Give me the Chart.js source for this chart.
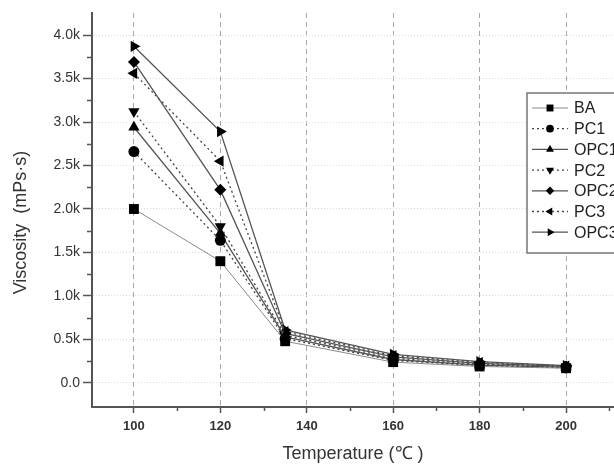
<!DOCTYPE html>
<html>
<head>
	<script src="https://cdn.jsdelivr.net/npm/chart.js@4/dist/chart.umd.min.js"></script>
	<title>Viscosity vs temperature</title>
	<style>
		html, body { margin: 0; padding: 0; background: #fff; overflow: hidden; }
	</style>
</head>
<body>
	<canvas id="myChart" width="614" height="465"></canvas>
	<script type="text/javascript">
		// temperatures (deg C) and viscosity (mPa.s)
		const temps = [100, 120, 135, 160, 180, 200];
		const BA   = [2000, 1400, 480, 240, 190, 170];
		const PC1  = [2660, 1640, 510, 260, 200, 175];
		const OPC1 = [2940, 1720, 530, 270, 205, 180];
		const PC2  = [3120, 1800, 550, 285, 215, 185];
		const OPC2 = [3690, 2220, 570, 300, 225, 190];
		const PC3  = [3560, 2550, 590, 315, 235, 195];
		const OPC3 = [3870, 2890, 610, 330, 245, 200];

		const seriesNames = ['BA', 'PC1', 'OPC1', 'PC2', 'OPC2', 'PC3', 'OPC3'];
		const xTicks = [100, 120, 140, 160, 180, 200];
		const yTicks = [0, 500, 1000, 1500, 2000, 2500, 3000, 3500, 4000];

		const FONT = "'Liberation Sans', Arial, sans-serif";

		// marker / line style per series
		const styles = [
			{ pt : 'rect',     rot : 0,   r : 7,   dash : [],     col : '#8a8a8a', w : 1 },
			{ pt : 'circle',   rot : 0,   r : 5.5, dash : [2, 3], col : '#444',    w : 1.3 },
			{ pt : 'triangle', rot : 0,   r : 6.5, dash : [],     col : '#555',    w : 1.3 },
			{ pt : 'triangle', rot : 180, r : 6.5, dash : [2, 3], col : '#444',    w : 1.3 },
			{ pt : 'rectRot',  rot : 0,   r : 6,   dash : [],     col : '#555',    w : 1.3 },
			{ pt : 'triangle', rot : -90, r : 6.5, dash : [2, 3], col : '#444',    w : 1.3 },
			{ pt : 'triangle', rot : 90,  r : 6.5, dash : [],     col : '#555',    w : 1.3 }
		];
		const values = [BA, PC1, OPC1, PC2, OPC2, PC3, OPC3];

		let datasets = [];
		for(let i=0; i<values.length; i++) {
			let s = styles[i];
			datasets.push({
				label : seriesNames[i],
				data : temps.map((t, j) => ({ x : t, y : values[i][j] })),
				borderColor : s.col,
				borderWidth : s.w,
				borderDash : s.dash,
				pointStyle : s.pt,
				rotation : s.rot,
				pointRadius : s.r,
				pointBackgroundColor : '#000',
				pointBorderColor : '#000',
				pointBorderWidth : 0,
				fill : false,
				tension : 0
			});
		}

		// minor ticks (half steps) on both axes
		const minorTicks = {
			id : 'minorTicks',
			afterDraw(chart) {
				const ctx = chart.ctx;
				const xs = chart.scales.x, ys = chart.scales.y;
				const area = chart.chartArea;
				ctx.save();
				ctx.strokeStyle = '#555';
				ctx.lineWidth = 1.5;
				ctx.beginPath();
				for(let v=250; v<4250; v+=500) {
					let py = Math.round(ys.getPixelForValue(v)) + 0.5;
					ctx.moveTo(area.left - 5, py);
					ctx.lineTo(area.left, py);
				}
				for(let v=110; v<=210; v+=20) {
					let px = Math.round(xs.getPixelForValue(v)) + 0.5;
					ctx.moveTo(px, area.bottom);
					ctx.lineTo(px, area.bottom + 4);
				}
				ctx.stroke();
				ctx.restore();
			}
		};

		// boxed legend inside the plot, on the right
		const boxLegend = {
			id : 'boxLegend',
			afterDraw(chart) {
				const ctx = chart.ctx;
				const left = 527, top = 93, rowH = 20.7;
				ctx.save();
				ctx.fillStyle = '#fff';
				ctx.fillRect(left, top, 200, 160);
				ctx.strokeStyle = '#777';
				ctx.lineWidth = 1.5;
				ctx.strokeRect(left, top, 200, 160);
				ctx.font = '16px ' + FONT;
				ctx.textBaseline = 'middle';
				for(let i=0; i<seriesNames.length; i++) {
					let s = styles[i];
					let y = top + 15 + i * rowH;
					ctx.strokeStyle = s.col;
					ctx.lineWidth = s.w;
					ctx.setLineDash(s.dash);
					ctx.beginPath();
					ctx.moveTo(532, y);
					ctx.lineTo(568, y);
					ctx.stroke();
					ctx.setLineDash([]);
					ctx.fillStyle = '#000';
					ctx.strokeStyle = '#000';
					Chart.helpers.drawPoint(ctx, {
						pointStyle : s.pt, rotation : s.rot, radius : s.r * 0.7, borderWidth : 0
					}, 550, y);
					ctx.fillStyle = '#222';
					ctx.fillText(seriesNames[i], 574, y + 1);
				}
				ctx.restore();
			}
		};

		const ctx = document.getElementById('myChart');
		const myChart = new Chart(ctx, {
			type : 'line',
			data : { datasets : datasets },
			plugins : [minorTicks, boxLegend],
			options : {
				responsive : false,
				animation : false,
				layout : { autoPadding : false, padding : { top : 13, right : 0, left : 0, bottom : 0 } },
				plugins : {
					legend : { display : false },
					tooltip : { enabled : false }
				},
				scales : {
					x : {
						type : 'linear',
						min : 90.3,
						max : 211.1,
						afterBuildTicks : sc => { sc.ticks = xTicks.map(v => ({ value : v })); },
						afterFit : sc => { sc.height = 58; sc.paddingLeft = 0; sc.paddingRight = 0; },
						ticks : {
							color : '#333',
							font : { family : FONT, size : 13, weight : 'bold' },
							padding : 6,
							maxRotation : 0
						},
						grid : {
							color : '#a8a8a8',
							lineWidth : 1,
							tickLength : 6,
							tickColor : '#555',
							tickWidth : 1.5
						},
						border : { display : true, color : '#555', width : 2, dash : [5, 4] },
						title : {
							display : true,
							text : 'Temperature (℃ )',
							color : '#333',
							font : { family : FONT, size : 18 },
							padding : { top : 0, bottom : 0 }
						}
					},
					y : {
						type : 'linear',
						min : -276,
						max : 4253,
						afterBuildTicks : sc => { sc.ticks = yTicks.map(v => ({ value : v })); },
						afterFit : sc => { sc.width = 92; },
						ticks : {
							color : '#333',
							font : { family : FONT, size : 14 },
							padding : 3,
							callback : v => v === 0 ? '0.0' : (v / 1000).toFixed(1) + 'k'
						},
						grid : {
							color : '#dcdcdc',
							lineWidth : 1,
							tickLength : 9,
							tickColor : '#555',
							tickWidth : 1.5
						},
						border : { display : true, color : '#555', width : 2, dash : [1, 2] },
						title : {
							display : true,
							text : 'Viscosity  (mPs·s)     ',
							color : '#333',
							font : { family : FONT, size : 18 },
							padding : { top : 10, bottom : 0 }
						}
					}
				}
			}
		});
	</script>
</body>
</html>
